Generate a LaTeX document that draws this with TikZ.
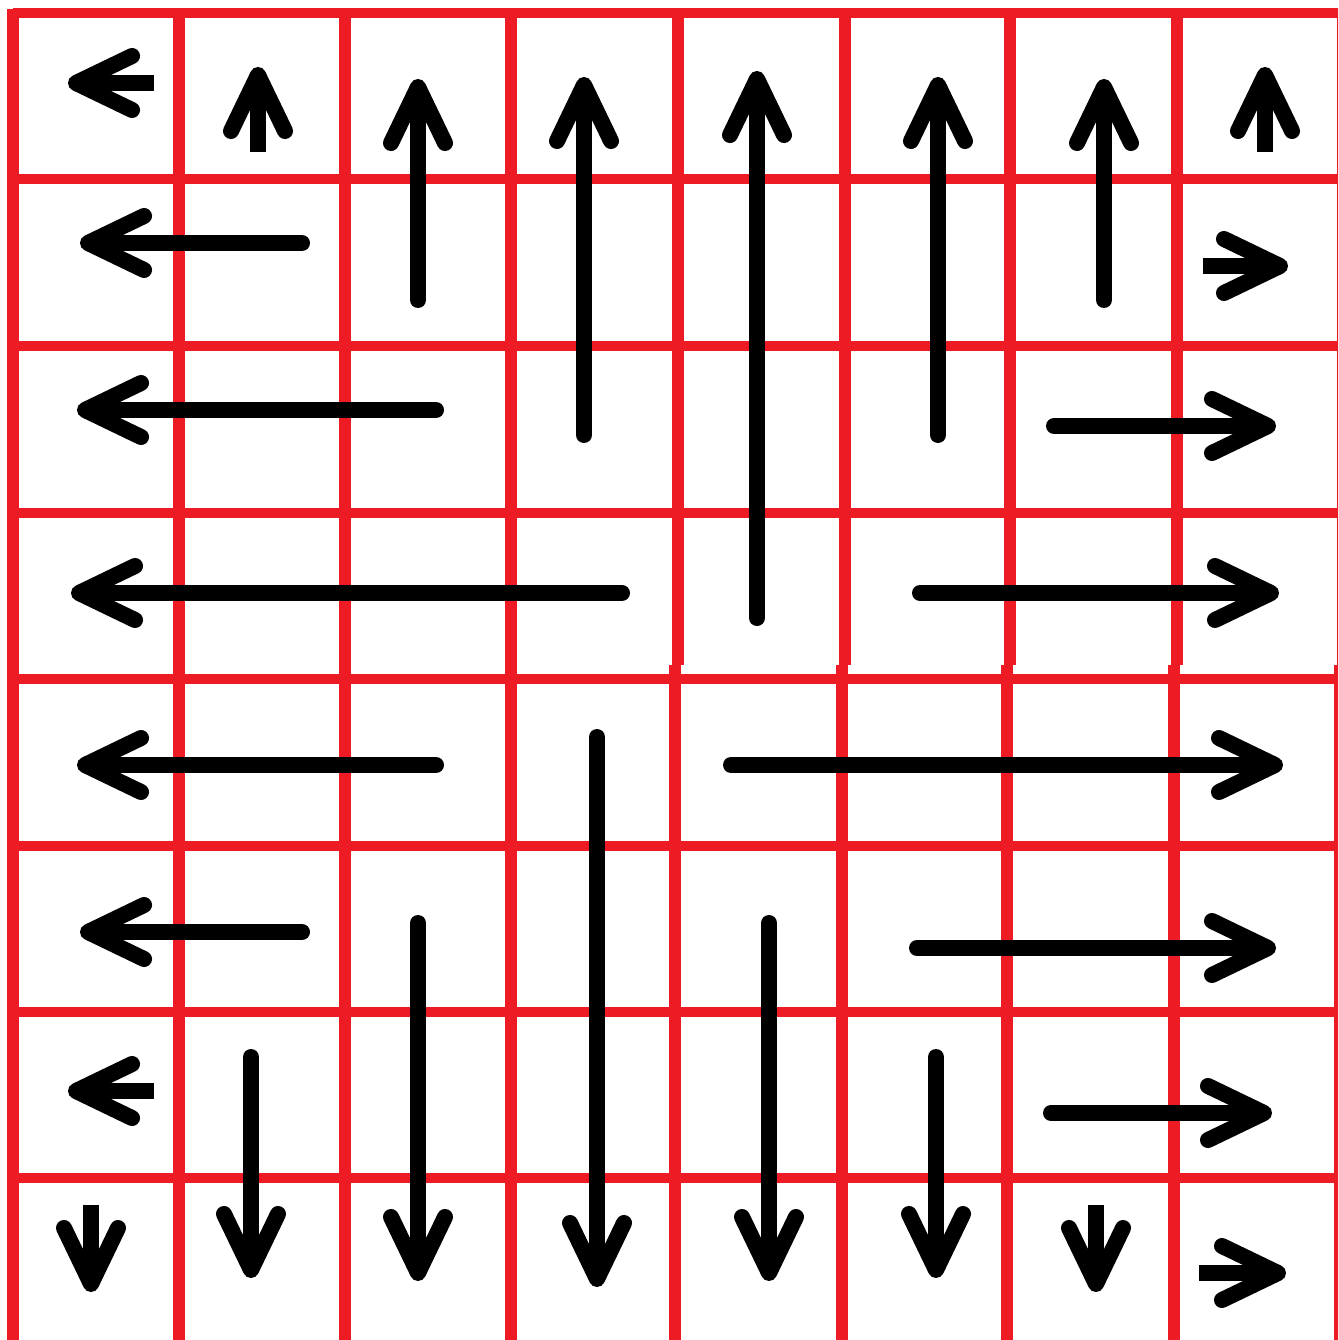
\documentclass[tikz,border=0pt]{standalone}
\usepackage{xcolor}
\usetikzlibrary{arrows.meta}
\definecolor{paintred}{HTML}{ED1C24}

\begin{document}
\begin{tikzpicture}[x=0.01cm, y=-0.01cm,
  vline/.style={paintred, line width=0.125cm},
  hline/.style={paintred, line width=0.095cm},
  flow/.style={line width=0.16cm, line cap=round,
    -{Straight Barb[length=0.56cm, width=0.54cm, round]}},
  stub/.style={flow, line cap=butt}]
\useasboundingbox (0,0) rectangle (1338,1340);
\clip (0,0) rectangle (1338,1340);

% Grid (right half shifted a little below the middle line)
\foreach \x in {13,179,345,511} \draw[vline] (\x,9) -- (\x,1340);
\foreach \x in {678,845,1010,1177,1343} \draw[vline] (\x,9) -- (\x,665);
\foreach \x in {675,842,1007,1174,1340} \draw[vline] (\x,665) -- (\x,1340);
\foreach \y in {13,179,346,513,679,846,1012,1178} \draw[hline] (13,\y) -- (1338,\y);

% Top row: pointing up
\draw[stub] (154,83) -- (68,83);
\draw[stub] (258,152) -- (258,67);
\draw[flow] (418,300) -- (418,79);
\draw[flow] (584,435) -- (584,77);
\draw[flow] (757,618) -- (757,71);
\draw[flow] (938,435) -- (938,77);
\draw[flow] (1104,300) -- (1104,79);
\draw[stub] (1265,152) -- (1265,67);

% Left half: pointing left
\draw[flow] (302,243) -- (80,243);
\draw[flow] (436,410) -- (77,410);
\draw[flow] (622,593) -- (71,593);
\draw[flow] (436,765) -- (77,765);
\draw[flow] (302,932) -- (80,932);
\draw[stub] (154,1091) -- (68,1091);

% Right half: pointing right
\draw[stub] (1203,266) -- (1288,266);
\draw[flow] (1054,426) -- (1276,426);
\draw[flow] (920,593) -- (1279,593);
\draw[flow] (731,765) -- (1283,765);
\draw[flow] (917,948) -- (1276,948);
\draw[flow] (1051,1113) -- (1272,1113);
\draw[stub] (1199,1273) -- (1286,1273);

% Bottom row: pointing down
\draw[stub] (91,1205) -- (91,1292);
\draw[flow] (251,1057) -- (251,1278);
\draw[flow] (418,923) -- (418,1281);
\draw[flow] (597,737) -- (597,1287);
\draw[flow] (769,923) -- (769,1281);
\draw[flow] (936,1057) -- (936,1278);
\draw[stub] (1096,1205) -- (1096,1292);

\end{tikzpicture}
\end{document}
